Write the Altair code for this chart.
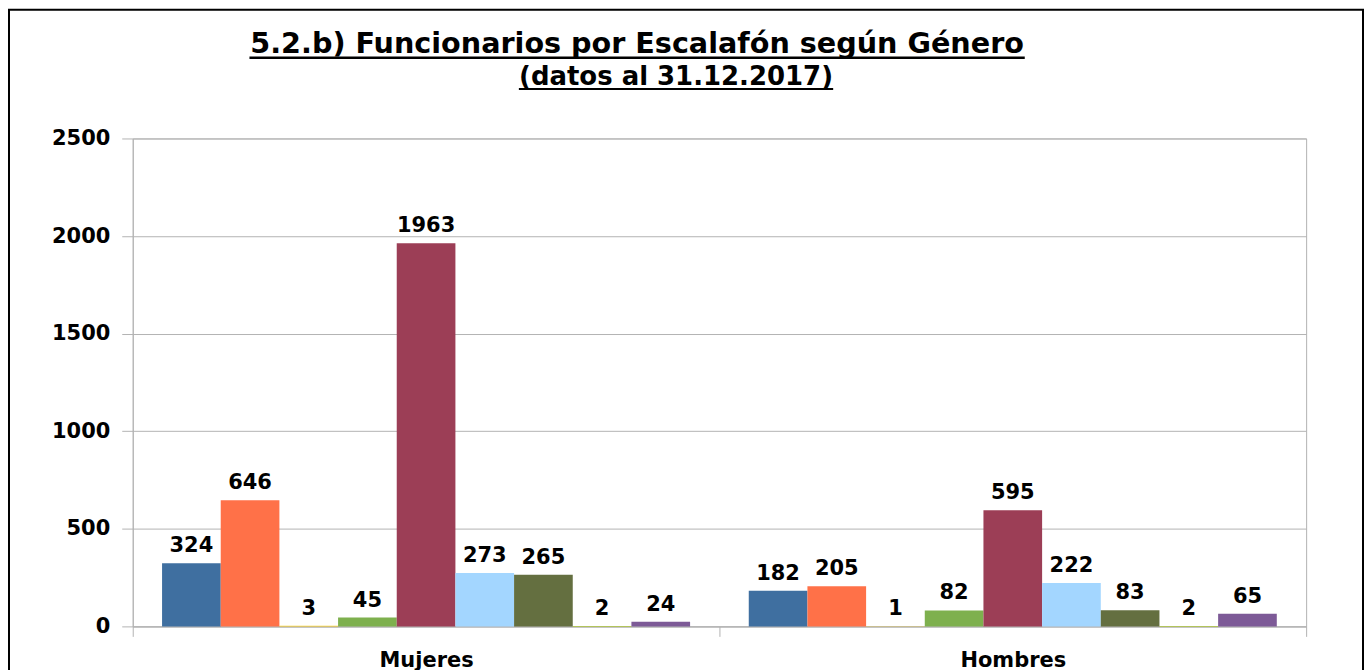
import altair as alt
import pandas as pd

# ---- data ----
generos = ["Mujeres", "Hombres"]
escalafones = ["Esc. 1", "Esc. 2", "Esc. 3", "Esc. 4", "Esc. 5",
               "Esc. 6", "Esc. 7", "Esc. 8", "Esc. 9"]
mujeres = [324, 646, 3, 45, 1963, 273, 265, 2, 24]
hombres = [182, 205, 1, 82, 595, 222, 83, 2, 65]
colores = ["#3F6FA0", "#FF7148", "#FFD320", "#7EB04E", "#9C3E56",
           "#A3D6FF", "#646F40", "#AECF00", "#7D5A97"]
y_ticks = [0, 500, 1000, 1500, 2000, 2500]

titulo = "5.2.b) Funcionarios por Escalafón según Género"
subtitulo = "(datos al 31.12.2017)"

rows = []
for g, vals in zip(generos, [mujeres, hombres]):
    for e, v in zip(escalafones, vals):
        rows.append({"genero": g, "escalafon": e, "valor": v})
df = pd.DataFrame(rows)

FONT = "DejaVu Sans"
W, H = 1176, 489

x_enc = alt.X("genero:N", sort=generos,
              scale=alt.Scale(paddingInner=0, paddingOuter=0),
              axis=alt.Axis(title=None, labelAngle=0, labelFont=FONT,
                            labelFontWeight="bold", labelFontSize=21,
                            labelColor="black", tickBand="extent",
                            tickSize=10, tickColor="#b3b3b3",
                            domainColor="#b3b3b3", labelPadding=13))
xo_enc = alt.XOffset("escalafon:N", sort=escalafones,
                     scale=alt.Scale(paddingOuter=0.5, paddingInner=0))
y_enc = alt.Y("valor:Q", scale=alt.Scale(domain=[0, 2500]),
              axis=alt.Axis(title=None, values=y_ticks, format="d",
                            labelFont=FONT,
                            labelFontWeight="bold", labelFontSize=21,
                            labelColor="black", tickSize=11,
                            tickColor="#b3b3b3", domainColor="#b3b3b3",
                            gridColor="#b3b3b3", labelPadding=12))

base = alt.Chart(df)
bars = base.mark_bar(strokeWidth=0).encode(
    x=x_enc, xOffset=xo_enc, y=y_enc,
    color=alt.Color("escalafon:N", sort=escalafones,
                    scale=alt.Scale(domain=escalafones, range=colores),
                    legend=None),
)
labels = base.mark_text(font=FONT, fontWeight="bold", fontSize=21,
                        color="black", baseline="alphabetic", dy=-11).encode(
    x=x_enc, xOffset=xo_enc, y=y_enc, text=alt.Text("valor:Q"))

one = pd.DataFrame({"k": [0]})
deco = alt.Chart(one)
border = deco.mark_rect(filled=False, stroke="black", strokeWidth=2).encode(
    x=alt.value(-124), x2=alt.value(1233), y=alt.value(-129), y2=alt.value(600))
t1 = deco.mark_text(text=titulo, font=FONT, fontWeight="bold", fontSize=28.7,
                    color="black", align="center", baseline="alphabetic").encode(
    x=alt.value(505.5), y=alt.value(-86))
t2 = deco.mark_text(text=subtitulo, font=FONT, fontWeight="bold", fontSize=26,
                    color="black", align="center", baseline="alphabetic").encode(
    x=alt.value(544.5), y=alt.value(-54))
u1 = deco.mark_rule(color="black", strokeWidth=2.5).encode(
    x=alt.value(117), x2=alt.value(894), y=alt.value(-81))
u2 = deco.mark_rule(color="black", strokeWidth=2).encode(
    x=alt.value(387), x2=alt.value(702), y=alt.value(-49.5))

chart = alt.layer(bars, labels, border, t1, t2, u1, u2).properties(
    width=W, height=H, autosize="none",
    padding={"left": 125, "top": 130, "right": 58, "bottom": 60},
    background="white",
).configure_view(stroke="#b3b3b3", strokeWidth=1)

chart.save("out.html", embed_options={"renderer": "svg", "actions": False})
